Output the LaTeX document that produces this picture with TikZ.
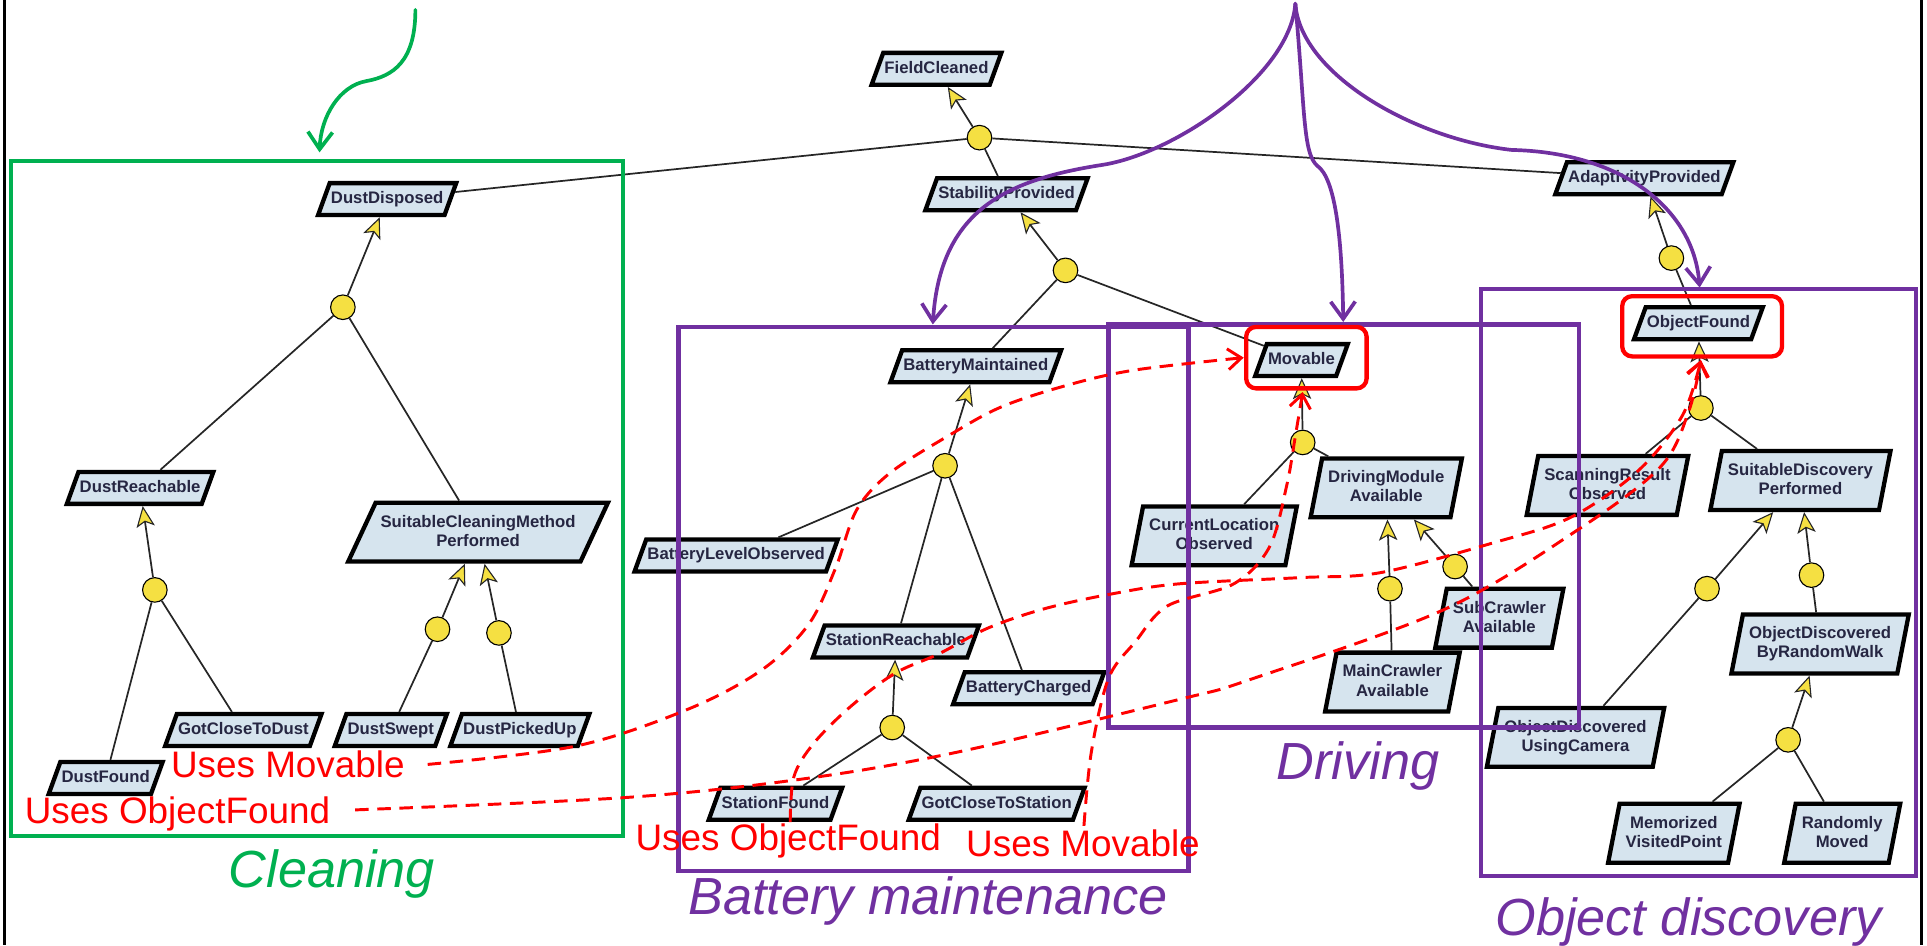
\documentclass[tikz,border=0pt]{standalone}
\usepackage{fontspec}
\setmainfont{Liberation Sans}
\usetikzlibrary{shapes.geometric,arrows.meta}
\definecolor{goalfill}{RGB}{214,228,238}
\definecolor{andyellow}{RGB}{245,224,66}
\definecolor{cgreen}{RGB}{0,176,80}
\definecolor{cpurple}{RGB}{112,48,160}
\definecolor{cred}{RGB}{255,0,0}
\definecolor{goaltext}{RGB}{38,38,66}
\newcommand\gs{\rule[-3pt]{0pt}{13.2pt}}
\begin{document}
\begin{tikzpicture}[x=1pt,y=-1pt,
 goal/.style={trapezium, trapezium left angle=70, trapezium right angle=110, draw=black, line width=3.5pt, fill=goalfill, inner xsep=1pt, inner ysep=6.4pt, text=goaltext, font=\bfseries\fontsize{13.6}{15.5}\selectfont, align=center},
 goalb/.style={goal, trapezium left angle=79, trapezium right angle=101, inner ysep=9.6pt, inner xsep=5pt},
 goalc/.style={goal, trapezium left angle=65, trapezium right angle=115, inner ysep=9.6pt, inner xsep=4pt},
 andn/.style={circle, draw=black, line width=0.9pt, fill=andyellow, minimum size=20pt, inner sep=0pt},
 refine/.style={draw=black!85, line width=1.4pt},
 contrib/.style={refine, -{Stealth[length=17pt,width=15pt,inset=4pt,fill=andyellow,line width=0.9pt]}},
 groupbox/.style={line width=3.5pt},
 redbox/.style={draw=cred, line width=3.5pt, rounded corners=8pt},
 reddash/.style={draw=cred, line width=2.4pt, dash pattern=on 11pt off 7pt, -{Straight Barb[length=11pt,width=17pt]}},
 parrow/.style={draw=cpurple, line width=3pt, line cap=round, -{Straight Barb[length=14pt,width=20pt]}},
 garrow/.style={draw=cgreen, line width=3pt, line cap=round, -{Straight Barb[length=14pt,width=20pt]}},
 uselabel/.style={text=cred, font=\fontsize{30}{34}\selectfont, inner sep=0pt, anchor=base west},
 seclabel/.style={font=\fontsize{42.5}{48}\selectfont\itshape, inner sep=0pt, anchor=base}
]
\useasboundingbox (0,0) rectangle (1568,769);
% frame
\draw[line width=2.5pt] (3.5,0) -- (3.5,769);
\draw[line width=2.5pt] (1563.5,0) -- (1563.5,769);

% goals
\node[goal] (fc) at (762,56) {FieldCleaned\gs};
\node[goal] (dd) at (315,162) {DustDisposed\gs};
\node[goal] (sp) at (819,158) {StabilityProvided\gs};
\node[goal] (ap) at (1338,145) {AdaptivityProvided\gs};
\node[goal] (bm) at (794,298) {BatteryMaintained\gs};
\node[goal] (mv) at (1059,293) {Movable\gs};
\node[goal] (of) at (1382,263) {ObjectFound\gs};
\node[goal] (dr) at (114,397) {DustReachable\gs};
\node[goalc] (scm) at (389,433) {SuitableCleaningMethod\gs\\Performed\gs};
\node[goal] (blo) at (599,452) {BatteryLevelObserved\gs};
\node[goalb] (clo) at (988,436) {CurrentLocation\gs\\Observed\gs};
\node[goalb] (dma) at (1128,397) {DrivingModule\gs\\Available\gs};
\node[goalb] (sro) at (1308,395) {ScanningResult\gs\\Observed\gs};
\node[goalb] (sdp) at (1465,391) {SuitableDiscovery\gs\\Performed\gs};
\node[goal] (str) at (729,522) {StationReachable\gs};
\node[goal] (bc) at (837,560) {BatteryCharged\gs};
\node[goalb] (sca) at (1220,503) {SubCrawler\gs\\Available\gs};
\node[goalb] (mca) at (1133,555) {MainCrawler\gs\\Available\gs};
\node[goalb] (odrw) at (1481,524) {ObjectDiscovered\gs\\ByRandomWalk\gs};
\node[goalb] (oduc) at (1282,600) {ObjectDiscovered\gs\\UsingCamera\gs};
\node[goal] (df) at (86,633) {DustFound\gs};
\node[goal] (gcd) at (198,594) {GotCloseToDust\gs};
\node[goal] (ds) at (318,594) {DustSwept\gs};
\node[goal] (dpu) at (423,594) {DustPickedUp\gs};
\node[goal] (sf) at (631,654) {StationFound\gs};
\node[goal] (gcs) at (811,654) {GotCloseToStation\gs};
\node[goalb] (mvp) at (1362,678) {Memorized\gs\\VisitedPoint\gs};
\node[goalb] (rm) at (1499,678) {Randomly\gs\\Moved\gs};

% and-refinements
\node[andn] (c1) at (797,112) {};
\node[andn] (c2) at (279,250) {};
\node[andn] (c3) at (867,220) {};
\node[andn] (c4) at (1360,210) {};
\node[andn] (c5) at (126,480) {};
\node[andn] (c6) at (356,512) {};
\node[andn] (c7) at (406,515) {};
\node[andn] (c8) at (769,379) {};
\node[andn] (c9) at (1060,360) {};
\node[andn] (c10) at (1384,332) {};
\node[andn] (c11) at (726,592) {};
\node[andn] (c12) at (1131,479) {};
\node[andn] (c13) at (1184,461) {};
\node[andn] (c14) at (1389,479) {};
\node[andn] (c15) at (1474,468) {};
\node[andn] (c16) at (1455,602) {};

% connectors
\draw[contrib] (c1) -- (fc);
\draw[refine] (c1) -- (dd); \draw[refine] (c1) -- (sp); \draw[refine] (c1) -- (ap);
\draw[contrib] (c2) -- (dd);
\draw[refine] (c2) -- (dr); \draw[refine] (c2) -- (scm);
\draw[contrib] (c3) -- (sp);
\draw[refine] (c3) -- (bm); \draw[refine] (c3) -- (mv);
\draw[contrib] (c4) -- (ap);
\draw[refine] (c4) -- (of);
\draw[contrib] (c5) -- (dr);
\draw[refine] (c5) -- (df); \draw[refine] (c5) -- (gcd);
\draw[contrib] (c6) -- (scm); \draw[refine] (c6) -- (ds);
\draw[contrib] (c7) -- (scm); \draw[refine] (c7) -- (dpu);
\draw[contrib] (c8) -- (bm);
\draw[refine] (c8) -- (blo); \draw[refine] (c8) -- (str); \draw[refine] (c8) -- (bc);
\draw[contrib] (c9) -- (mv);
\draw[refine] (c9) -- (clo); \draw[refine] (c9) -- (dma);
\draw[contrib] (c10) -- (of);
\draw[refine] (c10) -- (sro); \draw[refine] (c10) -- (sdp);
\draw[contrib] (c11) -- (str);
\draw[refine] (c11) -- (sf); \draw[refine] (c11) -- (gcs);
\draw[contrib] (c12) -- (dma); \draw[refine] (c12) -- (mca);
\draw[contrib] (c13) -- (dma); \draw[refine] (c13) -- (sca);
\draw[contrib] (c14) -- (sdp); \draw[refine] (c14) -- (oduc);
\draw[contrib] (c15) -- (sdp); \draw[refine] (c15) -- (odrw);
\draw[contrib] (c16) -- (odrw);
\draw[refine] (c16) -- (mvp); \draw[refine] (c16) -- (rm);

% group boxes
\draw[groupbox, cgreen] (9,131) rectangle (507,680);
\draw[groupbox, cpurple] (552,266) rectangle (967,709);
\draw[groupbox, cpurple] (902,264) rectangle (1285,592);
\draw[groupbox, cpurple] (1205,235) rectangle (1559,713);
\draw[redbox] (1014,266) rectangle (1112,316);
\draw[redbox] (1320,241) rectangle (1450,290);

% red labels
\node[uselabel] (um1) at (139,633) {Uses Movable};
\node[uselabel] (uo1) at (20,670) {Uses ObjectFound};
\node[uselabel] (uo2) at (517,692) {Uses ObjectFound};
\node[uselabel] (um2) at (786,697) {Uses Movable};

% red dashed dependencies
\coordinate (s1) at (348,622);
\coordinate (s2) at (289,659);
\coordinate (s3) at (643,669);
\coordinate (s4) at (882,672);
\coordinate (tm1) at (1012,291);
\coordinate (tm2) at (1060,319);
\coordinate (to) at (1384,293);
\draw[reddash] plot[smooth, tension=0.55] coordinates {(s1) (469,607) (560,577) (620,545) (658,508) (680,462) (697,415) (724,385) (771,355) (815,331) (870,313) (924,301) (tm1)};
\draw[reddash] plot[smooth, tension=0.55] coordinates {(s2) (508,649) (652,634) (779,612) (960,569) (1017,553) (1175,496) (1284,431) (1351,380) (1374,335) (to)};
\draw[reddash] plot[smooth, tension=0.55] coordinates {(s3) (646,632) (662,605) (692,575) (728,548) (764,532) (804,511) (851,495) (906,483) (960,475) (1058,470) (1123,466) (1214,442) (1278,421) (1333,383) (1369,338) (to)};
\draw[reddash] plot[smooth, tension=0.55] coordinates {(s4) (888,612) (902,552) (924,522) (950,493) (1004,475) (1033,445) (1047,395) (1054,355) (tm2)};

% purple arrows
\coordinate (pa) at (1054,3);
\coordinate (pt1) at (759,264);
\coordinate (pt2) at (1093,262);
\coordinate (pt3) at (1383,234);
\draw[parrow] (pa) .. controls (1050,60) and (958,124) .. (898,134) .. controls (820,146) and (765,170) .. (pt1);
\draw[parrow] (pa) .. controls (1062,90) and (1060,125) .. (1072,135) .. controls (1086,145) and (1092,190) .. (pt2);
\draw[parrow] (pa) .. controls (1058,60) and (1150,113) .. (1230,122) .. controls (1320,124) and (1378,170) .. (pt3);

% green arrow
\coordinate (gs) at (338,8);
\coordinate (gt) at (260,124);
\draw[garrow] (gs) .. controls (338,50) and (320,62) .. (298,66) .. controls (276,70) and (261,95) .. (gt);

% section labels
\node[seclabel, text=cgreen] (lclean) at (270,722) {Cleaning};
\node[seclabel, text=cpurple] (lbatt) at (755,744) {Battery maintenance};
\node[seclabel, text=cpurple] (ldrive) at (1105,634) {Driving};
\node[seclabel, text=cpurple] (lobj) at (1374,761) {Object discovery};
\end{tikzpicture}
\end{document}
